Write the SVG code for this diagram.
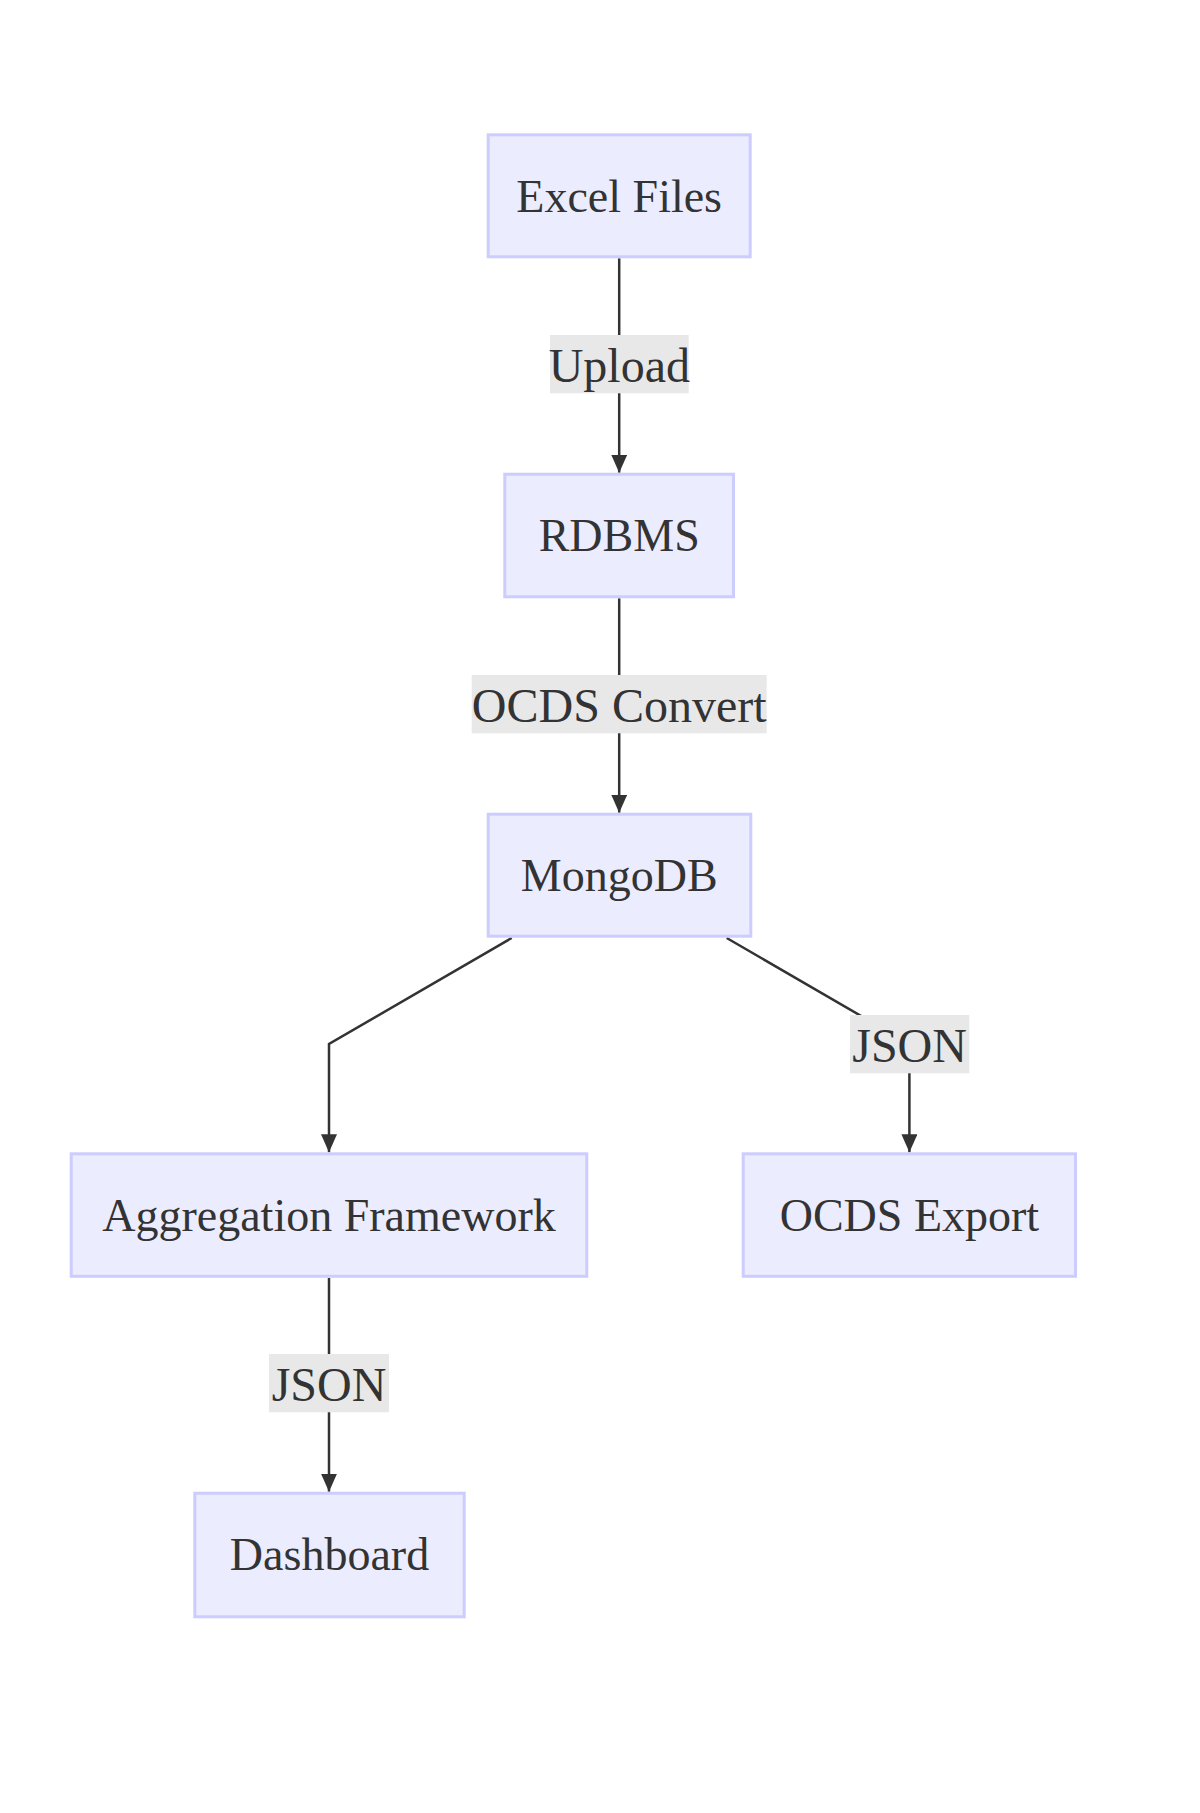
<svg xmlns="http://www.w3.org/2000/svg" width="1200" height="1813" viewBox="0 0 1200 1813">
  <style>
    .node rect { fill: #ECECFF; stroke: #CCCCFF; stroke-width: 3; }
    .node text { font-family: "Liberation Serif", "Times New Roman", serif; font-size: 46px; fill: #333333; text-anchor: middle; }
    .edge { fill: none; stroke: #333333; stroke-width: 2.5; }
    .elabel rect { fill: #E8E8E8; }
    .elabel text { font-family: "Liberation Serif", "Times New Roman", serif; font-size: 48px; fill: #333333; text-anchor: middle; }
  </style>
  <defs>
    <marker id="arrow" markerUnits="userSpaceOnUse" markerWidth="18" markerHeight="16" viewBox="0 0 18 16" refX="18" refY="8" orient="auto">
      <path d="M0,0 L18,8 L0,16 z" fill="#333333"/>
    </marker>
  </defs>
  <rect x="0" y="0" width="1200" height="1813" fill="#ffffff"/>

  <g id="connectors">
    <path class="edge" d="M619.2,258.3 L619.2,472.7" marker-end="url(#arrow)"/>
    <path class="edge" d="M619.2,598.3 L619.2,812.7" marker-end="url(#arrow)"/>
    <path class="edge" d="M511.7,938 L329,1044 L329,1152.3" marker-end="url(#arrow)"/>
    <path class="edge" d="M726.7,938 L909.4,1044 L909.4,1152.3" marker-end="url(#arrow)"/>
    <path class="edge" d="M329,1278 L329,1491.7" marker-end="url(#arrow)"/>
  </g>

  <g id="edge-labels">
    <g class="elabel" id="label-upload">
      <rect x="550" y="335" width="138.7" height="58.3"/>
      <text x="619.3" y="381.7">Upload</text>
    </g>
    <g class="elabel" id="label-ocds-convert">
      <rect x="471.7" y="675" width="295" height="58.3"/>
      <text x="619.2" y="721.7">OCDS Convert</text>
    </g>
    <g class="elabel" id="label-json-export">
      <rect x="850" y="1015" width="119.3" height="58.3"/>
      <text x="909.6" y="1061.7">JSON</text>
    </g>
    <g class="elabel" id="label-json-dashboard">
      <rect x="269" y="1354" width="120" height="58.3"/>
      <text x="329" y="1400.8">JSON</text>
    </g>
  </g>

  <g class="node" id="excel-files">
    <rect x="488.2" y="134.8" width="262" height="122"/>
    <text x="619.2" y="211.7">Excel Files</text>
  </g>
  <g class="node" id="rdbms">
    <rect x="504.8" y="474.2" width="228.7" height="122.6"/>
    <text x="619.2" y="550.7">RDBMS</text>
  </g>
  <g class="node" id="mongodb">
    <rect x="488.2" y="814.2" width="262.6" height="122"/>
    <text x="619.2" y="890.5">MongoDB</text>
  </g>
  <g class="node" id="aggregation-framework">
    <rect x="71.2" y="1153.8" width="515.6" height="122.5"/>
    <text x="329" y="1230.6">Aggregation Framework</text>
  </g>
  <g class="node" id="ocds-export">
    <rect x="743.2" y="1153.8" width="332.3" height="122.5"/>
    <text x="909.4" y="1230.6">OCDS Export</text>
  </g>
  <g class="node" id="dashboard">
    <rect x="194.8" y="1493.2" width="269.4" height="123.6"/>
    <text x="329.5" y="1570">Dashboard</text>
  </g>
</svg>
